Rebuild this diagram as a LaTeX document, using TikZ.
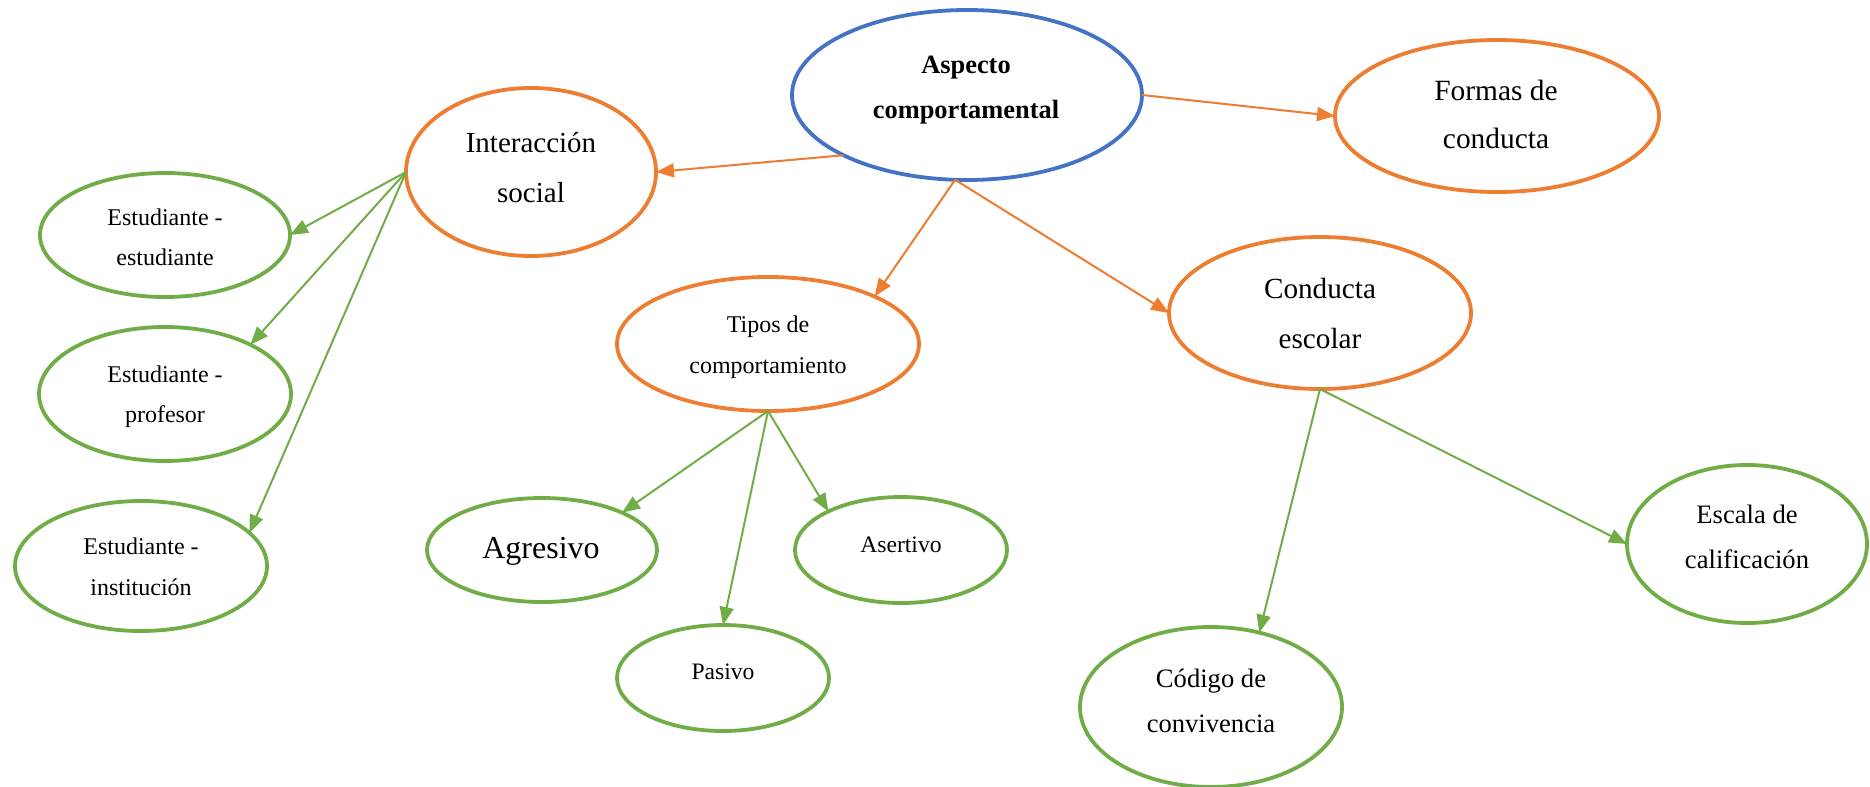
\documentclass[tikz,border=0pt]{standalone}
\usepackage{fontspec}
\setmainfont{Liberation Serif}
\usetikzlibrary{arrows.meta,shapes.geometric}
\definecolor{obl}{HTML}{4472C4}
\definecolor{oor}{HTML}{ED7D31}
\definecolor{ogr}{HTML}{70AD47}
\tikzset{
  bub/.style={ellipse, draw=#1, line width=1.9pt, inner sep=0pt, outer sep=0pt, fill=white},
  txt/.style={anchor=base, inner sep=0pt, font=\fontsize{#1}{#1}\selectfont},
  btxt/.style={anchor=base, inner sep=0pt, font=\fontsize{#1}{#1}\selectfont\bfseries},
  arr/.style={draw=#1, line width=1pt, -{Triangle[length=9pt,width=7pt]}, fill=#1}
}
\begin{document}
\begin{tikzpicture}[x=0.5pt,y=-0.5pt]
\useasboundingbox[fill=white] (0,0) rectangle (1870,787);
% ellipses (center, 2rx/2 pt, 2ry/2 pt)
\node[bub=obl, minimum width=175pt, minimum height=85pt] (asp) at (967,95) {};
\node[bub=oor, minimum width=125pt, minimum height=84pt] (inter) at (531,172) {};
\node[bub=oor, minimum width=162pt, minimum height=76pt] (formas) at (1497,116) {};
\node[bub=ogr, minimum width=125pt, minimum height=62pt] (ee) at (165,235) {};
\node[bub=ogr, minimum width=126pt, minimum height=67pt] (ep) at (165,394) {};
\node[bub=ogr, minimum width=126pt, minimum height=65pt] (ei) at (141,566) {};
\node[bub=oor, minimum width=151pt, minimum height=67pt] (tipos) at (768,344) {};
\node[bub=oor, minimum width=151pt, minimum height=76pt] (cond) at (1320,313) {};
\node[bub=ogr, minimum width=115pt, minimum height=52pt] (agr) at (542,550) {};
\node[bub=ogr, minimum width=106pt, minimum height=53pt] (ase) at (901,550) {};
\node[bub=ogr, minimum width=106pt, minimum height=53pt] (pas) at (723,678) {};
\node[bub=ogr, minimum width=120pt, minimum height=79pt] (esc) at (1747,544) {};
\node[bub=ogr, minimum width=131pt, minimum height=80pt] (cod) at (1211,707) {};
% texts
\node[btxt=13.2] (t1a) at (966,73) {Aspecto};
\node[btxt=13.2] (t1b) at (966,118) {comportamental};
\node[txt=14.5] (t2a) at (531,152) {Interacción};
\node[txt=14.5] (t2b) at (531,202) {social};
\node[txt=14.7] (t3a) at (1496,100) {Formas de};
\node[txt=14.7] (t3b) at (1496,148) {conducta};
\node[txt=12] (t4a) at (165,225) {Estudiante -};
\node[txt=12] (t4b) at (165,265) {estudiante};
\node[txt=12] (t5a) at (165,382) {Estudiante -};
\node[txt=12] (t5b) at (165,422) {profesor};
\node[txt=12] (t6a) at (141,554) {Estudiante -};
\node[txt=12] (t6b) at (141,595) {institución};
\node[txt=12] (t7a) at (768,332) {Tipos de};
\node[txt=12] (t7b) at (768,373) {comportamiento};
\node[txt=14.6] (t8a) at (1320,298) {Conducta};
\node[txt=14.6] (t8b) at (1320,348) {escolar};
\node[txt=16] (t9) at (541,558) {Agresivo};
\node[txt=11.8] (t10) at (901,552) {Asertivo};
\node[txt=11.8] (t11) at (723,679) {Pasivo};
\node[txt=13.3] (t12a) at (1747,523) {Escala de};
\node[txt=13.3] (t12b) at (1747,568) {calificación};
\node[txt=13.3] (t13a) at (1211,687) {Código de};
\node[txt=13.3] (t13b) at (1211,732) {convivencia};
% connectors
\draw[arr=oor] (asp.206) -- (inter.east);
\draw[arr=oor] (asp.east) -- (formas.west);
\draw[arr=oor] (asp.262) -- (tipos.24);
\draw[arr=oor] (asp.262) -- (cond.west);
\draw[arr=ogr] (inter.west) -- (ee.east);
\draw[arr=ogr] (inter.west) -- (ep.30);
\draw[arr=ogr] (inter.west) -- (ei.17);
\draw[arr=ogr] (tipos.south) -- (agr.25);
\draw[arr=ogr] (tipos.south) -- (pas.north);
\draw[arr=ogr] (tipos.south) -- (ase.152);
\draw[arr=ogr] (cond.south) -- (cod.57);
\draw[arr=ogr] (cond.south) -- (esc.west);
\end{tikzpicture}
\end{document}
